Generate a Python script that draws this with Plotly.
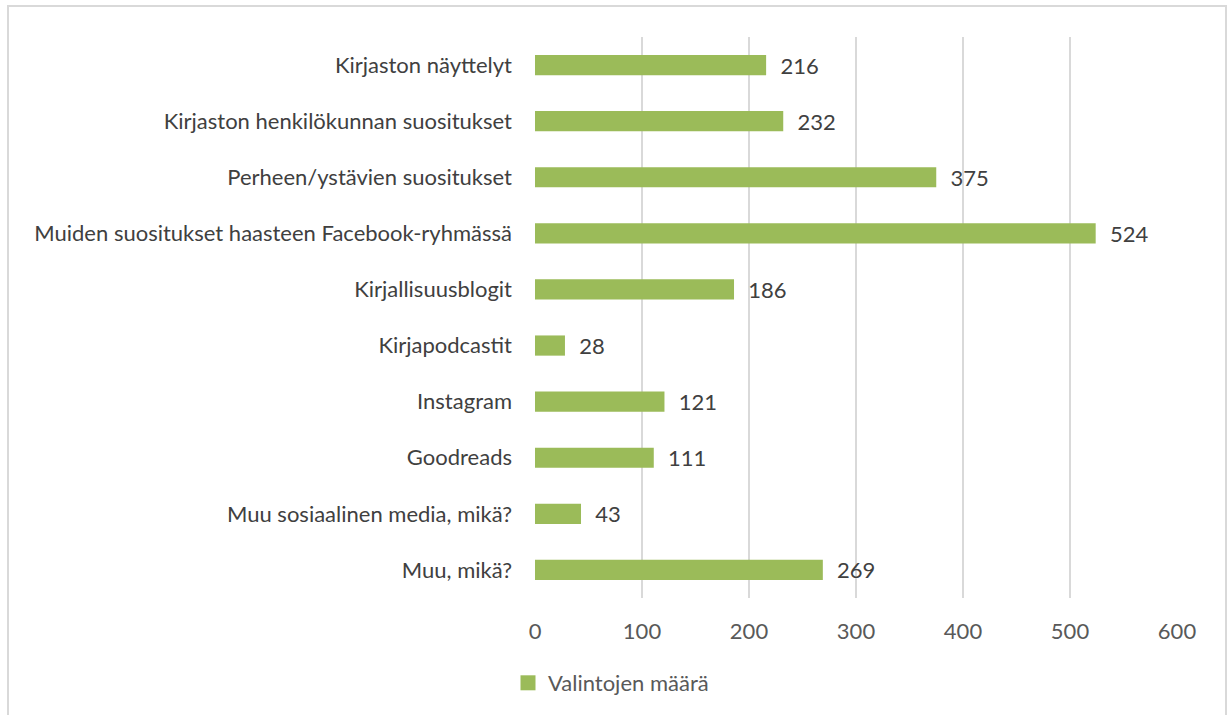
import plotly.graph_objects as go

categories = [
    "Kirjaston näyttelyt",
    "Kirjaston henkilökunnan suositukset",
    "Perheen/ystävien suositukset",
    "Muiden suositukset haasteen Facebook-ryhmässä",
    "Kirjallisuusblogit",
    "Kirjapodcastit",
    "Instagram",
    "Goodreads",
    "Muu sosiaalinen media, mikä?",
    "Muu, mikä?",
]
values = [216, 232, 375, 524, 186, 28, 121, 111, 43, 269]
series_name = "Valintojen määrä"
x_ticks = [0, 100, 200, 300, 400, 500, 600]

FONT = "Lato"
GREEN = "#9BBB59"

fig = go.Figure()
fig.add_trace(go.Bar(
    x=values, y=categories, orientation="h", name=series_name,
    marker=dict(color=GREEN, line=dict(width=0)),
    width=0.36, showlegend=False,
    text=["  " + str(v) for v in values], textposition="outside",
    constraintext="none",
    textfont=dict(family=FONT, size=22, color="#404040"),
    cliponaxis=False,
))
fig.add_trace(go.Scatter(
    x=[None], y=[None], mode="markers", name=series_name,
    marker=dict(symbol="square", size=15, color=GREEN),
    showlegend=True,
))

W, H = 1231, 715
L, R, T, B = 535, 1177, 37, 598
pw, ph = R - L, B - T

def px_x(p):
    return (p - L) / pw

def px_y(p):
    return (B - p) / ph

fig.update_layout(
    width=W, height=H,
    margin=dict(l=L, r=W - R, t=T, b=H - B, autoexpand=False),
    paper_bgcolor="white", plot_bgcolor="white",
    font=dict(family=FONT, size=22, color="#595959"),
    showlegend=True,
    legend=dict(orientation="h", x=px_x(508), y=px_y(683), xanchor="left", yanchor="middle",
                font=dict(family=FONT, size=22, color="#595959"),
                itemwidth=30, bgcolor="rgba(0,0,0,0)"),
    xaxis=dict(range=[0, 600], tickvals=x_ticks, showgrid=True, gridcolor="#D9D9D9", gridwidth=1.5,
               zeroline=False, showline=False, ticks="", ticklabelstandoff=18,
               tickfont=dict(family=FONT, size=22, color="#595959")),
    yaxis=dict(categoryorder="array", categoryarray=categories, autorange="reversed",
               showgrid=False, zeroline=False, showline=False, ticks="", ticklabelstandoff=22,
               tickfont=dict(family=FONT, size=22, color="#404040")),
    shapes=[dict(type="rect", xref="paper", yref="paper",
                 x0=px_x(8), x1=px_x(1226), y0=px_y(740), y1=px_y(6),
                 line=dict(color="#D9D9D9", width=2), fillcolor="rgba(0,0,0,0)", layer="below")],
)
fig.write_html(
    "out.html",
    config={"displayModeBar": False},
    post_script="document.body.style.margin='0';document.body.style.overflow='hidden';",
)
